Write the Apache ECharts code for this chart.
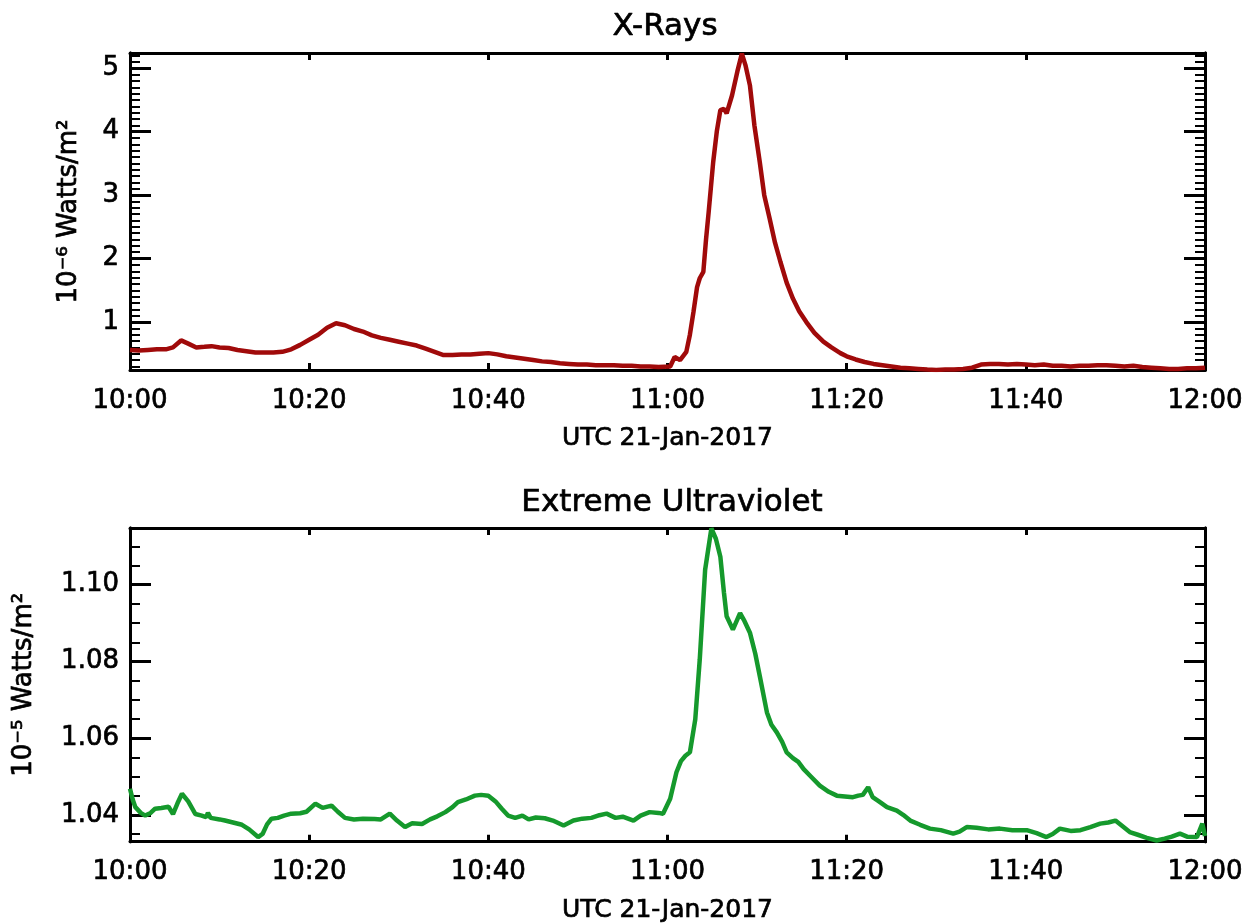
<!DOCTYPE html>
<html>
<head>
<meta charset="utf-8">
<script src="https://cdn.jsdelivr.net/npm/echarts@6/dist/echarts.min.js"></script>
<style>
  html, body { margin: 0; background: #fff; }
  #chart { width: 1254px; height: 924px; }
</style>
</head>
<body>
<div id="chart"></div>
<script>
// tick labels
var timeLabels = ['10:00', '10:20', '10:40', '11:00', '11:20', '11:40', '12:00'];
var timeTicks = [0, 20, 40, 60, 80, 100, 120];
var xrayTicks = [1, 2, 3, 4, 5];
var euvTicks = [1.04, 1.06, 1.08, 1.10];

// X-ray flux, minutes after 10:00 UTC -> 1e-6 W/m2
var xrayTime = [0, 1, 2, 3, 4, 4.8, 5.7, 6.5, 7.4, 8.3, 9.1, 10, 11, 12, 13, 14, 15, 16, 17, 18, 19, 20, 21, 22, 23, 24, 25, 26, 27, 28, 29, 30,
  31, 32, 33, 34, 35, 36, 37, 38, 39, 40, 41, 42, 43, 44, 45, 46, 47, 48, 49, 50, 51, 52, 53, 54, 55, 56, 57, 58, 59, 60.3, 60.8, 61.4, 62.1,
  62.5, 62.9, 63.3, 63.6, 64.0, 64.3, 64.6, 65.1, 65.5, 65.9, 66.3, 66.6, 67.2, 67.8, 68.3, 68.7, 69.2, 69.7, 70.3, 70.8, 71.4, 72, 72.6,
  73.3, 74, 74.7, 75.5, 76.4, 77.4, 78.3, 79.3, 80, 81, 82, 83, 84, 85, 86, 87, 88, 89, 90, 91, 92, 93, 94, 95, 96, 97, 98, 99, 100,
  101, 102, 103, 104, 105, 106, 107, 108, 109, 110, 111, 112, 113, 114, 115, 116, 117, 118, 119, 120];
var xrayFlux = [0.56, 0.55, 0.56, 0.57, 0.57, 0.60, 0.71, 0.66, 0.60, 0.61, 0.62, 0.60, 0.59, 0.56, 0.54, 0.52, 0.52, 0.52, 0.53, 0.57, 0.64,
  0.72, 0.80, 0.91, 0.98, 0.95, 0.89, 0.85, 0.79, 0.75, 0.72, 0.69, 0.66, 0.63, 0.58, 0.53, 0.48, 0.48, 0.49, 0.49, 0.50, 0.51, 0.49, 0.46,
  0.44, 0.42, 0.40, 0.38, 0.37, 0.35, 0.34, 0.33, 0.33, 0.32, 0.32, 0.32, 0.31, 0.31, 0.30, 0.30, 0.29, 0.30, 0.45, 0.40, 0.53, 0.80, 1.16,
  1.55, 1.69, 1.79, 2.30, 2.74, 3.52, 4.00, 4.34, 4.36, 4.29, 4.57, 4.95, 5.23, 5.05, 4.73, 4.10, 3.52, 3.00, 2.63, 2.25, 1.95, 1.62, 1.37,
  1.17, 1.00, 0.83, 0.69, 0.60, 0.51, 0.46, 0.41, 0.37, 0.34, 0.32, 0.30, 0.28, 0.27, 0.26, 0.25, 0.245, 0.25, 0.25, 0.26, 0.28, 0.33, 0.34,
  0.34, 0.33, 0.34, 0.33, 0.32, 0.33, 0.31, 0.31, 0.30, 0.31, 0.31, 0.32, 0.32, 0.31, 0.30, 0.31, 0.29, 0.28, 0.27, 0.26, 0.26, 0.27, 0.27, 0.28];

// EUV flux, minutes after 10:00 UTC -> 1e-5 W/m2
var euvTime = [0, 0.3, 0.6, 1.2, 1.7, 2.3, 2.8, 3.5, 4.3, 4.8, 5.3, 5.8, 6.5, 7.3, 8.0, 8.5, 8.7, 9.0, 10, 10.6, 11.5, 12.5, 13.3, 14.3,
  14.8, 15.3, 15.8, 16.5, 17.2, 18.0, 19, 19.7, 20.7, 21.5, 22.5, 23.2, 24, 25, 26, 27.3, 28, 29.0, 29.8, 30.7, 31.5, 32.6, 33.5, 34.3,
  35.2, 36, 36.6, 37.5, 38.5, 39.2, 40.0, 40.8, 41.5, 42.2, 43.0, 43.8, 44.5, 45.3, 46.3, 47.2, 48.4, 49.5, 50.5, 51.5, 52.4, 53.2, 54.2,
  55, 56.2, 57, 58, 59, 59.5, 60.3, 61.0, 61.5, 62.0, 62.5, 63.1, 63.6, 64.2, 64.9, 65.4, 65.9, 66.3, 66.6, 67.3, 68.1, 68.6, 69.2, 69.8,
  70.3, 71.1, 71.6, 72.2, 72.8, 73.3, 74.0, 74.6, 75.2, 76, 77, 78, 78.9, 79.8, 80.7, 81.3, 81.8, 82.4, 82.9, 83.6, 84.5, 85.6, 86.3,
  87.1, 88.2, 89.3, 90.5, 91.9, 92.6, 93.4, 94.5, 95.8, 97.1, 98.5, 100.1, 101.2, 102.3, 103.0, 103.8, 105, 106.1, 107.2, 108.3, 109.2,
  110.0, 110.8, 111.6, 112.5, 113.5, 114.6, 115.5, 116.3, 117.2, 118, 119.1, 119.7, 120];
var euvFlux = [1.0468, 1.0440, 1.0420, 1.0405, 1.0398, 1.0405, 1.0416, 1.0418, 1.0421, 1.0402, 1.0430, 1.0455, 1.0435, 1.0402, 1.0398,
  1.0394, 1.0405, 1.0392, 1.0388, 1.0385, 1.0380, 1.0374, 1.0362, 1.0342, 1.0350, 1.0375, 1.0390, 1.0392, 1.0398, 1.0403, 1.0404, 1.0408,
  1.0429, 1.0418, 1.0424, 1.0408, 1.0392, 1.0388, 1.0390, 1.0389, 1.0388, 1.0403, 1.0385, 1.0368, 1.0378, 1.0376, 1.0388, 1.0396, 1.0407,
  1.0420, 1.0433, 1.0440, 1.0450, 1.0452, 1.0450, 1.0435, 1.0416, 1.0398, 1.0392, 1.0398, 1.0388, 1.0393, 1.0391, 1.0385, 1.0372, 1.0385,
  1.0390, 1.0392, 1.0399, 1.0403, 1.0392, 1.0395, 1.0385, 1.0398, 1.0407, 1.0405, 1.0403, 1.0442, 1.0511, 1.0540, 1.0554, 1.0563, 1.0649,
  1.0805, 1.1039, 1.1147, 1.1120, 1.1073, 1.0980, 1.0918, 1.0883, 1.0926, 1.0905, 1.0875, 1.0820, 1.0762, 1.0667, 1.0635, 1.0615, 1.0590,
  1.0563, 1.0548, 1.0538, 1.0519, 1.0500, 1.0476, 1.0460, 1.0450, 1.0448, 1.0446, 1.0450, 1.0452, 1.0472, 1.0446, 1.0435, 1.0420, 1.0411,
  1.0400, 1.0385, 1.0374, 1.0364, 1.0360, 1.0351, 1.0356, 1.0368, 1.0366, 1.0362, 1.0364, 1.0360, 1.0360, 1.0352, 1.0342, 1.0350, 1.0364,
  1.0358, 1.0360, 1.0368, 1.0377, 1.0380, 1.0385, 1.0370, 1.0355, 1.0348, 1.0340, 1.0333, 1.0338, 1.0343, 1.0351, 1.0343, 1.0342, 1.0377,
  1.0345];

// minor tick positions
var xrayMinor = [];
for (var i = 3; i <= 52; i++) xrayMinor.push(+(i / 10).toFixed(1));
var euvMinor = [];
for (var j = 207; j <= 222; j++) euvMinor.push(+(j * 0.005).toFixed(3));

function pairs(xs, ys) {
  return xs.map(function (x, k) { return [x, ys[k]]; });
}

var font = 'DejaVu Sans';
var black = '#000';
// slightly heavier strokes, like the vector font of the original plot
var textBase = { fontFamily: font, color: black, textBorderColor: black, textBorderWidth: 0.7 };

function txt(size) {
  return Object.assign({ fontSize: size }, textBase);
}

function xAxes(grid) {
  var base = {
    gridIndex: grid, type: 'value', min: 0, max: 120,
    axisLine: { onZero: false, lineStyle: { color: black, width: 3 } },
    splitLine: { show: false }
  };
  var bottom = Object.assign({}, base, {
    position: 'bottom',
    name: 'UTC 21-Jan-2017', nameLocation: 'middle', nameGap: 56,
    nameTextStyle: txt(25),
    axisTick: { inside: true, length: 7, lineStyle: { width: 3, color: black }, customValues: timeTicks },
    axisLabel: Object.assign(txt(26), {
      customValues: timeTicks, margin: 18,
      formatter: function (v) { return timeLabels[Math.round(v / 20)]; }
    })
  });
  var top = Object.assign({}, base, {
    position: 'top',
    axisTick: { inside: true, length: 7, lineStyle: { width: 3, color: black }, customValues: timeTicks },
    axisLabel: { show: false }
  });
  return [bottom, top];
}

function yAxes(grid, min, max, major, minor, name, nameGap, fmt) {
  var base = {
    gridIndex: grid, type: 'value', min: min, max: max,
    axisLine: { lineStyle: { color: black, width: 3 } },
    splitLine: { show: false }
  };
  var list = [];
  ['left', 'right'].forEach(function (pos) {
    list.push(Object.assign({}, base, {
      position: pos,
      axisTick: { inside: true, length: 21, lineStyle: { width: 3, color: black }, customValues: major },
      axisLabel: pos === 'left' ? Object.assign(txt(26), {
        customValues: major, margin: 11, formatter: fmt
      }) : { show: false },
      name: pos === 'left' ? name : '',
      nameLocation: 'middle', nameRotate: 90, nameGap: nameGap,
      nameTextStyle: txt(26)
    }));
    list.push(Object.assign({}, base, {
      position: pos,
      axisTick: { inside: true, length: 10, lineStyle: { width: 2, color: black }, customValues: minor },
      axisLabel: { show: false }
    }));
  });
  return list;
}

var chart = echarts.init(document.getElementById('chart'));
var option = {
  backgroundColor: '#fff',
  animation: false,
  title: [
    { text: 'X-Rays', left: 660, top: 6, textAlign: 'center',
      textStyle: Object.assign(txt(31), { fontWeight: 'normal' }) },
    { text: 'Extreme Ultraviolet', left: 667, top: 482, textAlign: 'center',
      textStyle: Object.assign(txt(31), { fontWeight: 'normal' }) }
  ],
  grid: [
    { left: 130, right: 49, top: 53, height: 317 },
    { left: 130, right: 49, top: 528, height: 315 }
  ],
  xAxis: xAxes(0).concat(xAxes(1)),
  yAxis: yAxes(0, 0.244, 5.24, xrayTicks, xrayMinor, '10⁻⁶ Watts/m²', 48,
      function (v) { return String(v); })
    .concat(yAxes(1, 1.033, 1.1148, euvTicks, euvMinor, '10⁻⁵ Watts/m²', 93,
      function (v) { return v.toFixed(2); })),
  series: [
    {
      type: 'line', xAxisIndex: 0, yAxisIndex: 0, showSymbol: false,
      lineStyle: { color: '#a00a0a', width: 4.5 },
      data: pairs(xrayTime, xrayFlux)
    },
    {
      type: 'line', xAxisIndex: 2, yAxisIndex: 4, showSymbol: false,
      lineStyle: { color: '#15992c', width: 4.5 },
      data: pairs(euvTime, euvFlux)
    }
  ]
};
chart.setOption(option);
</script>
</body>
</html>
